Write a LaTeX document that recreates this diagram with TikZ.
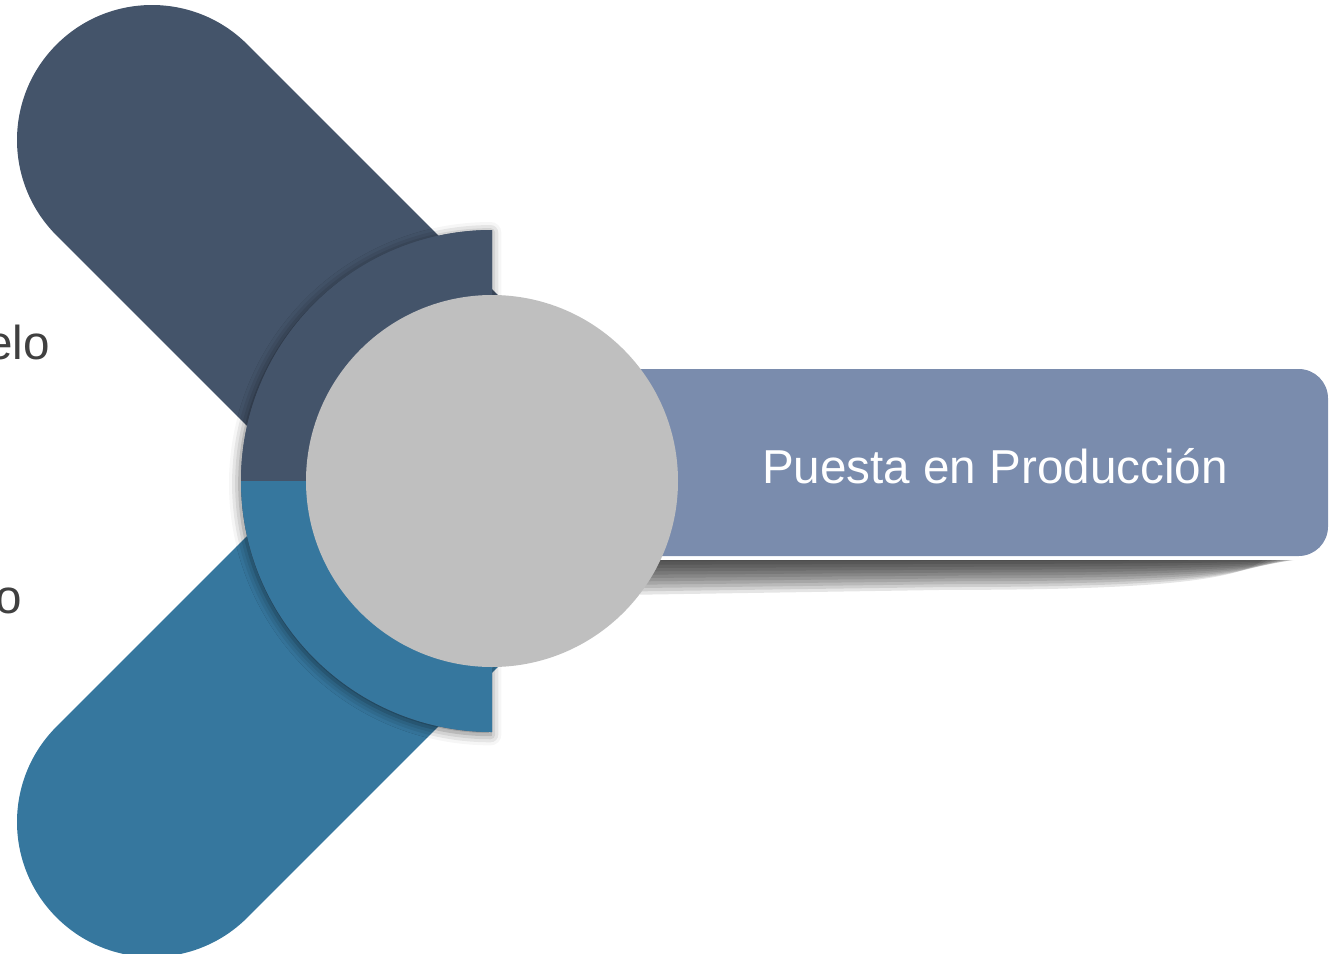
\documentclass[tikz,border=0pt]{standalone}
\usepackage{fontspec}
\setmainfont{Liberation Sans}
\usetikzlibrary{shadows.blur}
\definecolor{slate}{HTML}{44546A}
\definecolor{teal}{HTML}{36779E}
\definecolor{bar}{HTML}{7A8CAD}
\definecolor{disc}{HTML}{BFBFBF}
\definecolor{txtgray}{HTML}{404040}
\tikzset{
  pill/.style={line width=202.5pt, line cap=round},
  ringshadow/.style={blur shadow={shadow xshift=-1pt, shadow yshift=-2pt, shadow blur radius=8pt, shadow opacity=55}},
  shadowlayer/.style={fill=black, fill opacity=0.1},
  lbl/.style={inner sep=0pt, font=\fontsize{35.7}{40}\selectfont},
}
\begin{document}
\begin{tikzpicture}[x=0.75pt,y=-0.75pt]
\useasboundingbox (0,0) rectangle (1340,954);
% left labels (cut by the page edge, as in the reference)
\node[lbl, text=txtgray, anchor=base east] (t1) at (50,359) {elo};
\node[lbl, text=txtgray, anchor=base east] (t2) at (22,613) {o};
% pills
\draw[pill, slate] (152,140) -- (492,480);
\draw[pill, teal] (152,822) -- (492,482);
% soft shadow under the bar, built from stacked translucent layers
\foreach \k in {1,...,11}{
  \pgfmathsetmacro{\d}{2.9*\k}
  \pgfmathsetmacro{\xe}{1320-5*\k}
  \pgfmathsetmacro{\xa}{\xe-25}
  \pgfmathsetmacro{\xb}{\xe-140}
  \pgfmathsetmacro{\xm}{\xe-320}
  \pgfmathsetmacro{\ya}{558+0.8*\d}
  \pgfmathsetmacro{\yb}{558+\d}
  \pgfmathsetmacro{\yl}{558+1.15*\d}
  \path[shadowlayer] (640,558) -- (\xe,558) .. controls (\xa,\ya) and (\xb,\yb) .. (\xm,\yb) -- (640,\yl) -- cycle;
}
\fill[white] (640,557) rectangle (1330,560);
% bar
\fill[bar, rounded corners=22pt] (600,369) rectangle (1328,556);
% ring
\fill[ringshadow, slate] (492,481) -- (492,230) arc[start angle=-90, end angle=-270, radius=251] -- cycle;
\fill[slate] (492,481) -- (492,230) arc[start angle=-90, end angle=-180, radius=251] -- cycle;
\fill[teal] (492,481) -- (241,481) arc[start angle=180, end angle=90, radius=251] -- cycle;
% centre disc
\fill[disc] (492,481) circle[radius=186];
\node[lbl, text=white, anchor=base] (t3) at (995,483) {Puesta en Producción};
\end{tikzpicture}
\end{document}
